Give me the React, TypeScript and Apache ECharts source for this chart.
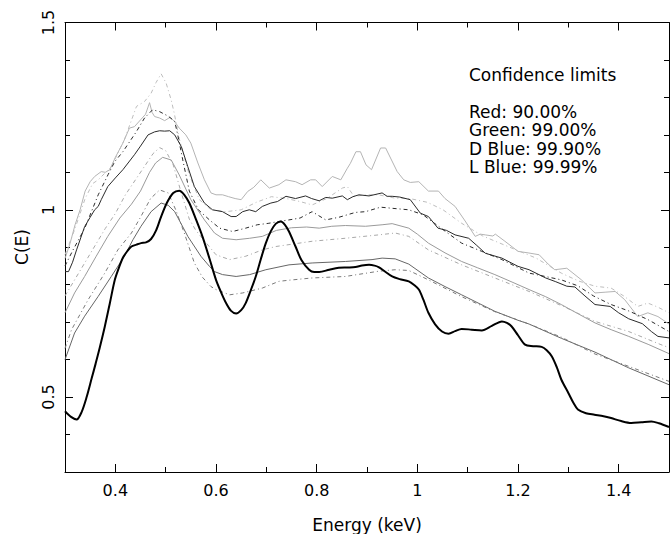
import React, { useEffect, useRef } from "react";
import * as echarts from "echarts";

// ---- axis ticks ----
const xMajorTicks = [0.4, 0.6, 0.8, 1, 1.2, 1.4];
const xMinorTicks = [0.5, 0.7, 0.9, 1.1, 1.3];
const yMajorTicks = [0.5, 1, 1.5];
const yMinorTicks = [0.4, 0.6, 0.7, 0.8, 0.9, 1.1, 1.2, 1.3, 1.4];

const legendTitle = "Confidence limits";
const legendLines = ["Red: 90.00%", "Green: 99.00%", "D Blue: 99.90%", "L Blue: 99.99%"];

// ---- data curve C(E) ----
const dataCurve: [number, number][] = [
  [0.300, 0.462], [0.312, 0.447], [0.323, 0.440], [0.333, 0.46], [0.343, 0.5], [0.353, 0.55], [0.361, 0.59],
  [0.369, 0.632], [0.379, 0.688], [0.389, 0.75], [0.399, 0.813], [0.407, 0.845], [0.415, 0.872], [0.424, 0.89],
  [0.432, 0.902], [0.442, 0.907], [0.451, 0.911], [0.461, 0.913], [0.471, 0.922], [0.481, 0.945], [0.491, 0.982],
  [0.503, 1.02], [0.515, 1.045], [0.527, 1.051], [0.537, 1.04], [0.547, 1.018], [0.56, 0.975], [0.573, 0.929],
  [0.587, 0.87], [0.6, 0.813], [0.61, 0.78], [0.62, 0.751], [0.63, 0.73], [0.64, 0.723], [0.65, 0.732],
  [0.659, 0.751], [0.669, 0.785], [0.679, 0.822], [0.689, 0.868], [0.699, 0.911], [0.709, 0.943], [0.719, 0.963],
  [0.729, 0.969], [0.737, 0.96], [0.745, 0.942], [0.758, 0.902], [0.77, 0.865], [0.785, 0.84], [0.795, 0.834],
  [0.805, 0.834], [0.825, 0.84], [0.844, 0.845], [0.86, 0.846], [0.877, 0.847], [0.89, 0.851], [0.904, 0.853],
  [0.915, 0.851], [0.923, 0.847], [0.935, 0.836], [0.95, 0.822], [0.965, 0.815], [0.983, 0.809], [0.993, 0.8],
  [1.003, 0.787], [1.012, 0.76], [1.022, 0.725], [1.035, 0.695], [1.049, 0.675], [1.062, 0.669], [1.075, 0.676],
  [1.088, 0.682], [1.108, 0.68], [1.128, 0.678], [1.148, 0.69], [1.168, 0.702], [1.178, 0.698], [1.187, 0.689],
  [1.2, 0.665], [1.214, 0.64], [1.23, 0.636], [1.247, 0.634], [1.257, 0.625], [1.267, 0.609], [1.277, 0.58],
  [1.286, 0.547], [1.3, 0.511], [1.31, 0.485], [1.319, 0.467], [1.335, 0.457], [1.352, 0.453], [1.37, 0.449],
  [1.385, 0.444], [1.405, 0.436], [1.425, 0.431], [1.445, 0.433], [1.465, 0.435], [1.48, 0.43], [1.5, 0.42],
];

// ---- L Blue (99.99%) ----
const lBlueSolid: [number, number][] = [
  [0.3, 0.87], [0.31, 0.91], [0.32, 0.96], [0.33, 1.0], [0.34, 1.05], [0.35, 1.075], [0.359, 1.089], [0.372, 1.102],
  [0.38, 1.1], [0.389, 1.107], [0.4, 1.14], [0.415, 1.178], [0.428, 1.218], [0.438, 1.222], [0.45, 1.24], [0.46, 1.255],
  [0.468, 1.286], [0.473, 1.26], [0.478, 1.249], [0.488, 1.245], [0.498, 1.238], [0.509, 1.247], [0.518, 1.235],
  [0.527, 1.218], [0.54, 1.2], [0.55, 1.178], [0.564, 1.125], [0.577, 1.08], [0.59, 1.045], [0.6, 1.04], [0.613, 1.04],
  [0.625, 1.035], [0.638, 1.03], [0.65, 1.027], [0.663, 1.049], [0.675, 1.06], [0.689, 1.08], [0.706, 1.058],
  [0.725, 1.067], [0.739, 1.08], [0.758, 1.075], [0.771, 1.067], [0.788, 1.08], [0.798, 1.08], [0.811, 1.062],
  [0.831, 1.089], [0.848, 1.08], [0.861, 1.111], [0.867, 1.124], [0.878, 1.155], [0.887, 1.155], [0.898, 1.12],
  [0.909, 1.107], [0.927, 1.165], [0.937, 1.165], [0.96, 1.102], [0.973, 1.08], [0.986, 1.073], [1.003, 1.075],
  [1.022, 1.05], [1.042, 1.05], [1.055, 1.03], [1.075, 1.009], [1.095, 0.97], [1.115, 0.929], [1.125, 0.935],
  [1.135, 0.933], [1.15, 0.93], [1.155, 0.935], [1.174, 0.916], [1.2, 0.889], [1.22, 0.885], [1.242, 0.88],
  [1.26, 0.855], [1.273, 0.84], [1.297, 0.844], [1.326, 0.813], [1.353, 0.778], [1.373, 0.78], [1.393, 0.782],
  [1.412, 0.76], [1.438, 0.715], [1.458, 0.725], [1.478, 0.715], [1.5, 0.695],
];
const lBlueDotted: [number, number][] = [
  [0.3, 0.88], [0.32, 0.95], [0.34, 1.03], [0.355, 1.07], [0.366, 1.08], [0.392, 1.115], [0.418, 1.187],
  [0.442, 1.276], [0.458, 1.289], [0.471, 1.311], [0.481, 1.34], [0.491, 1.363], [0.501, 1.338], [0.511, 1.293],
  [0.517, 1.258], [0.527, 1.19], [0.547, 1.093], [0.567, 1.027], [0.59, 1.0], [0.62, 0.995], [0.65, 1.0],
  [0.68, 1.02], [0.71, 1.035], [0.74, 1.03], [0.767, 1.022], [0.791, 1.013], [0.82, 1.03], [0.851, 1.058],
  [0.861, 1.062], [0.874, 1.036], [0.9, 1.04], [0.923, 1.04], [0.956, 1.031], [0.985, 1.03], [1.02, 1.02],
  [1.051, 1.0], [1.088, 0.964], [1.13, 0.93], [1.18, 0.902], [1.236, 0.871], [1.286, 0.831], [1.32, 0.81],
  [1.353, 0.796], [1.385, 0.791], [1.41, 0.77], [1.438, 0.742], [1.458, 0.751], [1.478, 0.74], [1.5, 0.725],
];

// ---- D Blue (99.90%) ----
const dBlueSolid: [number, number][] = [
  [0.3, 0.835], [0.307, 0.835], [0.315, 0.86], [0.323, 0.893], [0.339, 0.955], [0.35, 0.98], [0.359, 1.0],
  [0.366, 1.009], [0.372, 1.027], [0.385, 1.062], [0.4, 1.085], [0.415, 1.107], [0.438, 1.147], [0.45, 1.17],
  [0.465, 1.2], [0.478, 1.208], [0.488, 1.211], [0.498, 1.21], [0.508, 1.211], [0.518, 1.2], [0.531, 1.169],
  [0.544, 1.115], [0.557, 1.062], [0.577, 1.018], [0.593, 1.0], [0.613, 0.995], [0.63, 0.982], [0.64, 0.982],
  [0.653, 0.995], [0.666, 1.0], [0.679, 0.995], [0.692, 1.009], [0.709, 1.018], [0.722, 1.022], [0.739, 1.036],
  [0.758, 1.03], [0.778, 1.037], [0.79, 1.03], [0.805, 1.024], [0.818, 1.033], [0.831, 1.031], [0.851, 1.037],
  [0.861, 1.027], [0.872, 1.035], [0.884, 1.04], [0.904, 1.037], [0.93, 1.045], [0.94, 1.036], [0.95, 1.036],
  [0.965, 1.034], [0.986, 1.027], [1.006, 0.991], [1.022, 0.982], [1.041, 0.951], [1.058, 0.945], [1.075, 0.933],
  [1.102, 0.924], [1.118, 0.905], [1.135, 0.884], [1.168, 0.871], [1.2, 0.849], [1.222, 0.84], [1.255, 0.818],
  [1.275, 0.808], [1.297, 0.796], [1.313, 0.794], [1.333, 0.77], [1.353, 0.747], [1.383, 0.742], [1.4, 0.725],
  [1.42, 0.709], [1.447, 0.696], [1.465, 0.675], [1.478, 0.662], [1.5, 0.658],
];
const dBlueDotted: [number, number][] = [
  [0.3, 0.85], [0.316, 0.893], [0.339, 0.95], [0.366, 1.04], [0.386, 1.095], [0.399, 1.129], [0.415, 1.155],
  [0.442, 1.209], [0.458, 1.245], [0.474, 1.267], [0.488, 1.262], [0.505, 1.25], [0.518, 1.236], [0.524, 1.2],
  [0.534, 1.133], [0.547, 1.05], [0.565, 1.0], [0.587, 0.973], [0.607, 0.951], [0.633, 0.942], [0.659, 0.951],
  [0.682, 0.96], [0.705, 0.964], [0.725, 0.969], [0.745, 0.973], [0.767, 0.978], [0.791, 0.995], [0.818, 0.973],
  [0.844, 0.98], [0.877, 0.993], [0.897, 0.995], [0.927, 1.007], [0.95, 1.004], [0.983, 1.0], [1.011, 0.987],
  [1.051, 0.947], [1.088, 0.911], [1.128, 0.889], [1.168, 0.867], [1.222, 0.831], [1.286, 0.813], [1.319, 0.797],
  [1.35, 0.77], [1.385, 0.747], [1.42, 0.73], [1.458, 0.707], [1.5, 0.675],
];

// ---- Green (99.00%) ----
const greenSolid: [number, number][] = [
  [0.3, 0.725], [0.319, 0.778], [0.339, 0.822], [0.362, 0.876], [0.385, 0.929], [0.409, 0.978], [0.432, 1.015],
  [0.45, 1.05], [0.468, 1.1], [0.48, 1.125], [0.494, 1.14], [0.511, 1.133], [0.527, 1.093], [0.55, 1.027],
  [0.577, 0.973], [0.597, 0.938], [0.613, 0.924], [0.64, 0.92], [0.667, 0.924], [0.692, 0.929], [0.72, 0.945],
  [0.75, 0.952], [0.78, 0.954], [0.805, 0.951], [0.83, 0.956], [0.857, 0.958], [0.897, 0.956], [0.93, 0.96],
  [0.95, 0.963], [0.983, 0.951], [1.0, 0.935], [1.022, 0.911], [1.055, 0.885], [1.088, 0.862], [1.12, 0.845],
  [1.154, 0.827], [1.19, 0.806], [1.222, 0.787], [1.255, 0.768], [1.286, 0.747], [1.32, 0.722], [1.353, 0.698],
  [1.385, 0.68], [1.42, 0.662], [1.46, 0.64], [1.5, 0.616],
];
const greenDotted: [number, number][] = [
  [0.3, 0.77], [0.32, 0.815], [0.34, 0.86], [0.36, 0.905], [0.38, 0.95], [0.4, 0.99], [0.42, 1.04], [0.44, 1.08],
  [0.46, 1.12], [0.475, 1.15], [0.488, 1.166], [0.5, 1.158], [0.515, 1.12], [0.53, 1.05], [0.547, 0.975],
  [0.56, 0.945], [0.573, 0.924], [0.6, 0.88], [0.627, 0.867], [0.659, 0.876], [0.692, 0.893], [0.719, 0.902],
  [0.745, 0.907], [0.791, 0.916], [0.857, 0.924], [0.923, 0.933], [0.956, 0.938], [0.983, 0.929], [1.022, 0.893],
  [1.088, 0.853], [1.154, 0.818], [1.222, 0.782], [1.29, 0.742], [1.353, 0.702], [1.42, 0.675], [1.484, 0.64],
  [1.5, 0.632],
];

// ---- Red (90.00%) ----
const redSolid: [number, number][] = [
  [0.3, 0.6], [0.319, 0.671], [0.339, 0.716], [0.366, 0.769], [0.392, 0.822], [0.418, 0.876], [0.435, 0.92],
  [0.451, 0.956], [0.471, 0.995], [0.491, 1.018], [0.505, 1.012], [0.518, 0.995], [0.531, 0.962], [0.544, 0.929],
  [0.57, 0.876], [0.587, 0.849], [0.597, 0.835], [0.613, 0.827], [0.64, 0.822], [0.667, 0.827], [0.699, 0.84],
  [0.745, 0.853], [0.791, 0.858], [0.857, 0.862], [0.91, 0.867], [0.93, 0.871], [0.956, 0.869], [0.983, 0.855],
  [1.022, 0.818], [1.055, 0.795], [1.088, 0.773], [1.154, 0.729], [1.2, 0.705], [1.222, 0.695], [1.286, 0.657],
  [1.353, 0.62], [1.42, 0.578], [1.5, 0.533],
];
const redDotted: [number, number][] = [
  [0.3, 0.63], [0.313, 0.68], [0.346, 0.76], [0.379, 0.831], [0.405, 0.893], [0.432, 0.938], [0.45, 0.98],
  [0.47, 1.03], [0.488, 1.053], [0.505, 1.045], [0.52, 1.0], [0.537, 0.938], [0.557, 0.858], [0.573, 0.82],
  [0.59, 0.795], [0.6, 0.787], [0.627, 0.773], [0.653, 0.778], [0.692, 0.791], [0.725, 0.809], [0.745, 0.812],
  [0.791, 0.818], [0.857, 0.822], [0.923, 0.836], [0.956, 0.84], [0.983, 0.838], [1.022, 0.813], [1.088, 0.768],
  [1.154, 0.728], [1.222, 0.695], [1.286, 0.66], [1.353, 0.615], [1.42, 0.582], [1.484, 0.55], [1.5, 0.542],
];

const FONT = "DejaVu Sans";
const DASHDOT = [4, 3, 1, 3];

export default function App() {
  const ref = useRef<HTMLDivElement>(null);

  useEffect(() => {
    if (!ref.current) return;
    const chart = echarts.init(ref.current, null, { renderer: "svg" });

    const xBase = {
      type: "value",
      min: 0.3,
      max: 1.5,
      splitLine: { show: false },
      axisLine: { show: false },
      axisLabel: { show: false },
      axisTick: { show: false },
    };
    const yBase = {
      type: "value",
      min: 0.3,
      max: 1.5,
      splitLine: { show: false },
      axisLine: { show: false },
      axisLabel: { show: false },
      axisTick: { show: false },
    };
    const axisLine = { show: true, onZero: false, lineStyle: { color: "#000", width: 1 } };
    const tick = (vals: number[], len: number) => ({
      show: true,
      inside: true,
      length: len,
      customValues: vals,
      lineStyle: { color: "#000", width: 1 },
    });

    const line = (data: [number, number][], color: string, dashed: boolean, width = 1) => ({
      type: "line",
      data,
      xAxisIndex: 0,
      yAxisIndex: 0,
      showSymbol: false,
      symbol: "none",
      silent: true,
      lineStyle: { color, width, type: dashed ? DASHDOT : "solid" },
      z: 2,
    });

    chart.setOption({
      animation: false,
      backgroundColor: "#fff",
      grid: { left: 65, right: 1, top: 22.5, bottom: 62, containLabel: false },
      xAxis: [
        {
          ...xBase,
          position: "bottom",
          axisLine,
          axisTick: tick(xMajorTicks, 8),
          axisLabel: {
            show: true,
            customValues: xMajorTicks,
            margin: 10,
            fontSize: 16,
            color: "#000",
            fontFamily: FONT,
            formatter: (v: number) => String(v),
          },
        },
        { ...xBase, position: "bottom", axisTick: tick(xMinorTicks, 5) },
        { ...xBase, position: "top", axisLine, axisTick: tick(xMajorTicks, 8) },
        { ...xBase, position: "top", axisTick: tick(xMinorTicks, 5) },
      ],
      yAxis: [
        {
          ...yBase,
          position: "left",
          axisLine,
          axisTick: tick(yMajorTicks, 8),
          axisLabel: {
            show: true,
            customValues: yMajorTicks,
            rotate: 90,
            margin: 9,
            fontSize: 16,
            color: "#000",
            fontFamily: FONT,
            showMaxLabel: true,
            formatter: (v: number) => String(v),
          },
        },
        { ...yBase, position: "left", axisTick: tick(yMinorTicks, 5) },
        { ...yBase, position: "right", axisLine, axisTick: tick(yMajorTicks, 8) },
        { ...yBase, position: "right", axisTick: tick(yMinorTicks, 5) },
      ],
      series: [
        line(lBlueSolid, "#b4b4b4", false),
        line(lBlueDotted, "#bdbdbd", true),
        line(greenSolid, "#9a9a9a", false),
        line(greenDotted, "#a8a8a8", true),
        line(redSolid, "#666666", false),
        line(redDotted, "#7a7a7a", true),
        line(dBlueSolid, "#2a2a2a", false),
        line(dBlueDotted, "#2a2a2a", true),
        { ...line(dataCurve, "#000000", false, 2), smooth: 0.3, z: 3 },
      ],
      graphic: [
        {
          type: "text",
          left: 469,
          top: 66,
          style: { text: legendTitle, fontSize: 17, fontFamily: FONT, fill: "#000" },
        },
        ...legendLines.map((t, i) => ({
          type: "text",
          left: 469,
          top: 103 + i * 18.6,
          style: { text: t, fontSize: 17, fontFamily: FONT, fill: "#000" },
        })),
        {
          type: "text",
          x: 367,
          y: 525,
          style: {
            text: "Energy (keV)",
            fontSize: 17,
            fontFamily: FONT,
            fill: "#000",
            align: "center",
            verticalAlign: "middle",
          },
        },
        {
          type: "text",
          x: 22,
          y: 247,
          rotation: Math.PI / 2,
          style: {
            text: "C(E)",
            fontSize: 17,
            fontFamily: FONT,
            fill: "#000",
            align: "center",
            verticalAlign: "middle",
          },
        },
      ],
    });

    return () => chart.dispose();
  }, []);

  return (
    <div
      ref={ref}
      style={{ position: "absolute", left: 0, top: 0, width: 670, height: 534 }}
    />
  );
}
